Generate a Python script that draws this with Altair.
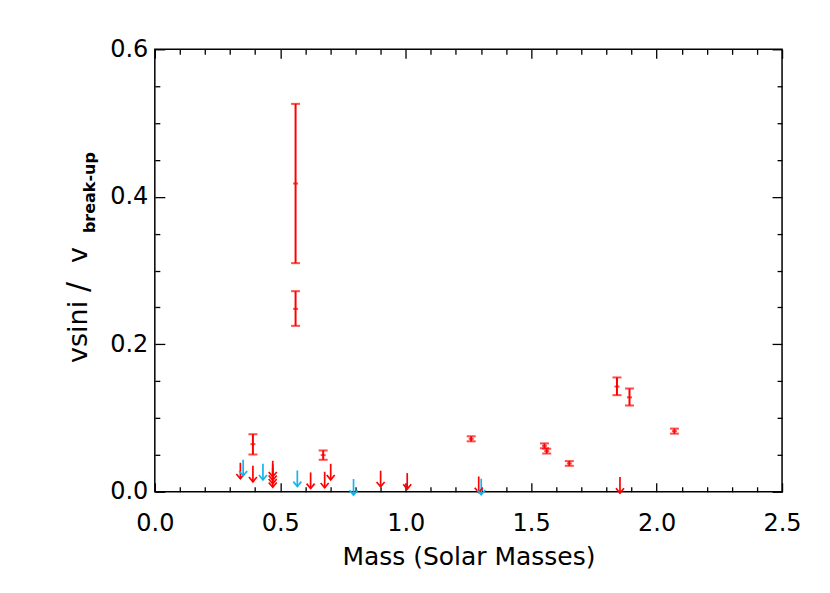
import altair as alt
import pandas as pd

# ---------------- data ----------------
# points with error bars
eb_mass = [0.561, 0.561, 0.391, 0.671, 1.261, 1.553, 1.562, 1.652, 1.842, 1.892, 2.071]
eb_val = [0.418, 0.248, 0.0646, 0.0497, 0.0718, 0.0623, 0.0551, 0.0384, 0.1427, 0.128, 0.0822]
eb_lo = [0.310, 0.225, 0.0505, 0.0434, 0.0684, 0.0590, 0.0518, 0.0352, 0.131, 0.117, 0.0788]
eb_hi = [0.526, 0.272, 0.0780, 0.0560, 0.0752, 0.0656, 0.0584, 0.0416, 0.155, 0.140, 0.0856]

# upper limits (arrows)
ul_mass = [0.341, 0.391, 0.470, 0.470, 0.470, 0.470, 0.621, 0.677, 0.701, 0.900, 1.006, 1.291, 1.854,
           0.352, 0.431, 0.568, 0.792, 1.301]
ul_val = [0.0393, 0.0352, 0.0420, 0.0373, 0.0325, 0.0278, 0.0262, 0.0271, 0.0379, 0.0285, 0.0253, 0.0207, 0.0199,
          0.0434, 0.0379, 0.0289, 0.0172, 0.0176]
ul_group = ["a"] * 13 + ["b"] * 5

x_major = [0.0, 0.5, 1.0, 1.5, 2.0, 2.5]
x_minor = [0.1, 0.2, 0.3, 0.4, 0.6, 0.7, 0.8, 0.9, 1.1, 1.2, 1.3, 1.4,
           1.6, 1.7, 1.8, 1.9, 2.1, 2.2, 2.3, 2.4]
y_major = [0.0, 0.2, 0.4, 0.6]
y_minor = [0.05, 0.1, 0.15, 0.25, 0.3, 0.35, 0.45, 0.5, 0.55]

ARROW_LEN = 0.0217  # arrow length in data units

RED = "#ff0000"
CYAN = "#14b4ee"
FONT = "DejaVu Sans"
W, H = 628, 443

eb = pd.DataFrame({"m": eb_mass, "v": eb_val, "lo": eb_lo, "hi": eb_hi})
ul = pd.DataFrame({"m": ul_mass, "top": ul_val, "g": ul_group})

xs = alt.Scale(domain=[0, 2.5], nice=False, zero=False)
ys = alt.Scale(domain=[0, 0.6], nice=False, zero=False)
col = alt.Color("g:N", scale=alt.Scale(domain=["a", "b"], range=[RED, CYAN]), legend=None)


def tick_axis(orient, offset, values, size):
    return alt.Axis(orient=orient, offset=offset, values=values, labels=False, domain=False,
                    grid=False, ticks=True, tickSize=size, tickWidth=1.3, tickColor="black",
                    title=None)


x_lab = alt.Axis(orient="bottom", values=x_major, format=".1f", ticks=False, tickSize=0,
                 domain=False, grid=False, labelFlush=False, labelFont=FONT, labelFontSize=24,
                 labelColor="black", labelPadding=20, title="Mass (Solar Masses)", titleFont=FONT,
                 titleFontSize=25, titleFontWeight="normal", titleColor="black", titlePadding=9)
y_lab = alt.Axis(orient="left", values=y_major, format=".1f", ticks=False, tickSize=0,
                 domain=False, grid=False, labelFlush=False, labelFont=FONT, labelFontSize=24,
                 labelColor="black", labelPadding=7, title=None)

base = alt.Chart(eb)

err = base.mark_rule(color=RED, strokeWidth=2).encode(
    x=alt.X("m:Q", scale=xs, axis=x_lab),
    y=alt.Y("lo:Q", scale=ys, axis=y_lab),
    y2="hi:Q",
)
cap_hi = base.mark_tick(color=RED, orient="horizontal", size=9, thickness=2).encode(
    x=alt.X("m:Q", scale=xs, axis=tick_axis("top", -H, x_major, 9)),
    y=alt.Y("hi:Q", scale=ys, axis=tick_axis("right", -W, y_major, 10)),
)
cap_lo = base.mark_tick(color=RED, orient="horizontal", size=9, thickness=2).encode(
    x=alt.X("m:Q", scale=xs, axis=tick_axis("top", -H, x_minor, 5)),
    y=alt.Y("lo:Q", scale=ys, axis=tick_axis("right", -W, y_minor, 5)),
)
centre = base.mark_tick(color=RED, orient="horizontal", size=5, thickness=2).encode(
    x=alt.X("m:Q", scale=xs, axis=tick_axis("bottom", -H, x_major, 9)),
    y=alt.Y("v:Q", scale=ys, axis=tick_axis("left", -W, y_major, 10)),
)

arr = alt.Chart(ul).transform_calculate(bot=f"datum.top - {ARROW_LEN}")
shaft = arr.mark_rule(strokeWidth=1.7).encode(
    x=alt.X("m:Q", scale=xs, axis=tick_axis("bottom", -H, x_minor, 5)),
    y=alt.Y("top:Q", scale=ys, axis=tick_axis("left", -W, y_minor, 5)),
    y2="bot:Q",
    color=col,
)
head = arr.mark_point(shape="M -1 -1.2 L 0 0 L 1 -1.2", filled=False, size=64, strokeWidth=1.7,
                      opacity=1).encode(
    x=alt.X("m:Q", scale=xs, axis=None),
    y=alt.Y("bot:Q", scale=ys, axis=None),
    color=col,
)

one = pd.DataFrame({"k": [0]})
t1 = alt.Chart(one).mark_text(text="vsini", angle=270, align="left", baseline="middle",
                              font=FONT, fontSize=27, color="black").encode(
    x=alt.value(-76), y=alt.value(314))
t2 = alt.Chart(one).mark_text(text="/", angle=270, align="left", baseline="middle",
                              font=FONT, fontSize=30, color="black").encode(
    x=alt.value(-76), y=alt.value(243))
t3 = alt.Chart(one).mark_text(text="v", angle=270, align="left", baseline="middle",
                              font=FONT, fontSize=27, color="black").encode(
    x=alt.value(-76), y=alt.value(214))
t4 = alt.Chart(one).mark_text(text="break-up", angle=270, align="left", baseline="middle",
                              font=FONT, fontSize=16, fontWeight="bold", color="black").encode(
    x=alt.value(-65), y=alt.value(184))

chart = alt.layer(err, cap_hi, cap_lo, centre, shaft, head, t1, t2, t3, t4).resolve_axis(
    x="independent", y="independent"
).properties(
    width=W, height=H,
    autosize=alt.AutoSizeParams(type="none"),
    padding={"left": 147, "top": 41, "right": 40, "bottom": 93},
    background="white",
).configure_view(stroke="black", strokeWidth=1.5)

chart.save("out.html", embed_options={"renderer": "svg", "actions": False})
